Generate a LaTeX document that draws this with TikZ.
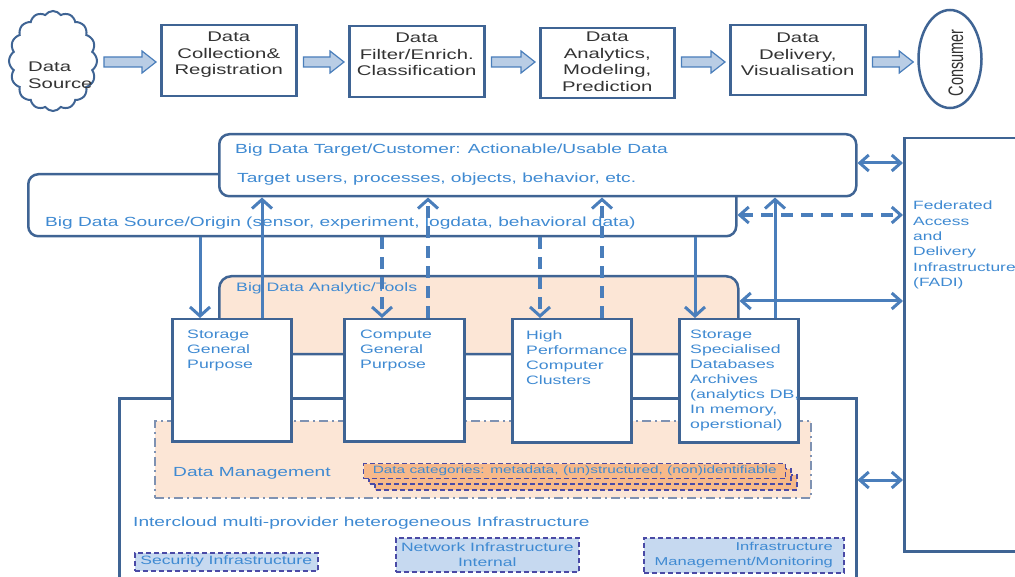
\documentclass[tikz,border=0pt]{standalone}
\usepackage{fontspec}
\setmainfont{Liberation Sans}[FakeStretch=1.45]
\newfontfamily\plainsans{Liberation Sans}
\usetikzlibrary{arrows.meta,shapes.symbols,shapes.geometric,calc}

\definecolor{frame}{HTML}{3F6494}
\definecolor{link}{HTML}{4A7EBB}
\definecolor{labelblue}{HTML}{3F8AD2}
\definecolor{peach}{HTML}{FCE6D6}
\definecolor{orangefill}{HTML}{F7B98A}
\definecolor{stackedge}{HTML}{4A4AA6}
\definecolor{paleblue}{HTML}{C6D9F0}
\definecolor{arrowfill}{HTML}{B9CDE5}
\definecolor{dmedge}{HTML}{7F92B2}
\definecolor{ink}{HTML}{333333}

\tikzset{
  stage/.style={draw=frame, line width=2.5pt, fill=white, inner sep=0pt, anchor=north west},
  stagetext/.style={text=ink, font=\fontsize{14}{16.5}\selectfont, align=center, inner sep=0pt, anchor=north},
  blk/.style={draw=link, line width=1.2pt, fill=arrowfill, line join=miter},
  panel/.style={draw=frame, line width=2.5pt, fill=white, inner sep=0pt, anchor=north west},
  lbl/.style={text=labelblue, inner sep=0pt, anchor=north west, align=left},
  boxlbl/.style={lbl, font=\fontsize{12.2}{15}\selectfont},
  headlbl/.style={lbl, font=\fontsize{13.2}{16}\selectfont},
  catbox/.style={draw=stackedge, fill=orangefill, line width=1.4pt, dash pattern=on 5pt off 3pt},
  infrabox/.style={draw=stackedge, fill=paleblue, line width=1.6pt, dash pattern=on 5pt off 3pt,
    inner sep=0pt, anchor=north west, text=labelblue},
  conn/.style={draw=link, line width=3pt},
  dashconn/.style={conn, line width=3.5pt, dash pattern=on 12pt off 8pt},
  tovert/.style={-{Straight Barb[length=9pt,width=20pt,line width=3pt]}},
  tohoriz/.style={{Straight Barb[length=9pt,width=16pt,line width=3pt]}-{Straight Barb[length=9pt,width=16pt,line width=3pt]}},
}

% block arrow between two nodes of the top row
\newcommand\blockarrow[2]{%
  \draw[blk] let \p1=(#1.east), \p2=(#2.west), \p3=(rowy) in
    (\x1+6pt,\y3+5pt) -- (\x2-18pt,\y3+5pt) -- (\x2-18pt,\y3+11pt) -- (\x2-4pt,\y3)
    -- (\x2-18pt,\y3-11pt) -- (\x2-18pt,\y3-5pt) -- (\x1+6pt,\y3-5pt) -- cycle;}

\begin{document}
\begin{tikzpicture}[x=1pt,y=-1pt]
\useasboundingbox (0,0) rectangle (1015,577);
\clip (0,0) rectangle (1015,577);

% ---------- top row: the data pipeline ----------
\coordinate (rowy) at (0,62);
\node[cloud, draw=frame, line width=2pt, fill=white, cloud puffs=16, cloud puff arc=110,
      cloud ignores aspect, minimum width=88pt, minimum height=100pt, inner sep=0pt] (dsrc) at (53,61) {};
\node[text=ink, font=\fontsize{14}{17}\selectfont, align=left, inner sep=0pt, anchor=north west]
  (dsrct) at (28,62) {Data\\Source};

\node[stage, minimum width=135pt, minimum height=71pt] (coll) at (160,24) {};
\node[stagetext] at ([yshift=-8pt]coll.north) {Data\\Collection\&\\Registration};

\node[stage, minimum width=135pt, minimum height=71pt] (filt) at (348,25) {};
\node[stagetext] at ([yshift=-8pt]filt.north) {Data\\Filter/Enrich.\\Classification};

\node[stage, minimum width=134pt, minimum height=70pt] (anal) at (539,27) {};
\node[stagetext] at ([yshift=-5pt]anal.north) {Data\\Analytics,\\Modeling,\\Prediction};

\node[stage, minimum width=135pt, minimum height=70pt] (deliv) at (729,24) {};
\node[stagetext] at ([yshift=-9pt]deliv.north) {Data\\Delivery,\\Visualisation};

\node[ellipse, draw=frame, line width=2.5pt, fill=white, minimum width=63pt, minimum height=98pt,
      inner sep=0pt] (cons) at (950,59) {};
\node[rotate=90, text=ink, inner sep=0pt] at (956,63)
  {\plainsans\fontsize{14.5}{16}\selectfont\scalebox{1}[1.45]{Consumer}};

\blockarrow{dsrc}{coll}
\blockarrow{coll}{filt}
\blockarrow{filt}{anal}
\blockarrow{anal}{deliv}
\blockarrow{deliv}{cons}

% ---------- infrastructure layer ----------
\node[panel, minimum width=737pt, minimum height=220pt] (infra) at (118,397) {};

\node[draw=dmedge, fill=peach, line width=2pt, dash pattern=on 9pt off 4pt on 2pt off 4pt,
      minimum width=656pt, minimum height=77pt, inner sep=0pt, anchor=north west] (dm) at (154,420) {};
\node[headlbl] at (173,467) {Data Management};

\foreach \d in {12,6}
  \draw[catbox] (363+\d,463+\d) rectangle (785+\d,478+\d);
\node[catbox, minimum width=422pt, minimum height=15pt, inner sep=0pt, anchor=north west,
      text=labelblue, font=\fontsize{10.6}{12}\selectfont] (cat) at (363,463)
  {Data categories: metadata, (un)structured, (non)identifiable};

\node[headlbl] at (133,517) {Intercloud multi-provider heterogeneous Infrastructure};

\node[infrabox, minimum width=183pt, minimum height=18pt, font=\fontsize{12.1}{14}\selectfont]
  (sec) at (134,552) {Security Infrastructure};
\node[infrabox, minimum width=183pt, minimum height=34pt, align=center, font=\fontsize{12.1}{15}\selectfont]
  (net) at (395,537) {Network Infrastructure\\Internal};
\node[infrabox, minimum width=200pt, minimum height=35pt, align=right, font=\fontsize{11.4}{15}\selectfont]
  (mgmt) at (643,537) {Infrastructure\\Management/Monitoring};

% ---------- source and target panels ----------
\node[panel, rounded corners=10pt, minimum width=708pt, minimum height=62pt] (origin) at (27,173) {};
\node[panel, rounded corners=10pt, minimum width=637pt, minimum height=62pt] (target) at (218,133) {};
\node[headlbl] at (235,144) {Big Data Target/Customer: Actionable/Usable Data};
\node[headlbl] at (237,173) {Target users, processes, objects, behavior, etc.};
\node[headlbl] at (45,217) {Big Data Source/Origin (sensor, experiment, logdata, behavioral data)};

% ---------- analytics tools ----------
\node[panel, fill=peach, rounded corners=12pt, minimum width=519pt, minimum height=78pt] (tools) at (218,275) {};
\node[boxlbl] at (236,282) {Big Data Analytic/Tools};

\node[panel, minimum width=119pt, minimum height=122pt] (sgp) at (171,318) {};
\node[boxlbl] at (187,330) {Storage\\General\\Purpose};
\node[panel, minimum width=120pt, minimum height=122pt] (cgp) at (343,318) {};
\node[boxlbl] at (360,330) {Compute\\General\\Purpose};
\node[panel, minimum width=119pt, minimum height=123pt] (hpc) at (511,318) {};
\node[boxlbl] at (526,330) {High\\Performance\\Computer\\Clusters};
\node[panel, minimum width=119pt, minimum height=123pt] (ssd) at (678,318) {};
\node[boxlbl] at (690,330) {Storage\\Specialised\\Databases\\Archives\\(analytics DB,\\In memory,\\operstional)};

% ---------- federated access ----------
\node[panel, minimum width=130pt, minimum height=413pt] (fadi) at (903,137) {};
\node[lbl, font=\fontsize{12}{15.3}\selectfont] at (913,201)
  {Federated\\Access\\and\\Delivery\\Infrastructure\\(FADI)};

% ---------- vertical data flows ----------
\coordinate (v1) at (200,0);
\coordinate (v2) at (262,0);
\coordinate (v3) at (382,0);
\coordinate (v4) at (428,0);
\coordinate (v5) at (540,0);
\coordinate (v6) at (602,0);
\coordinate (v7) at (695,0);
\coordinate (v8) at (775,0);

\draw[conn, tovert] (v1 |- origin.south) -- (v1 |- sgp.north);
\draw[conn, tovert] (v2 |- sgp.north) -- (v2 |- target.south);
\draw[dashconn, tovert] (v3 |- origin.south) -- (v3 |- cgp.north);
\draw[dashconn, tovert] (v4 |- cgp.north) -- (v4 |- target.south);
\draw[dashconn, tovert] (v5 |- origin.south) -- (v5 |- hpc.north);
\draw[dashconn, tovert] (v6 |- hpc.north) -- (v6 |- target.south);
\draw[conn, tovert] (v7 |- origin.south) -- (v7 |- ssd.north);
\draw[conn, tovert] (v8 |- ssd.north) -- (v8 |- target.south);

% ---------- links to the federated access layer ----------
\coordinate (h1) at (0,163);
\coordinate (h2) at (0,215);
\coordinate (h3) at (0,301);
\coordinate (h4) at (0,480);

\draw[conn, tohoriz] (target.east |- h1) -- (fadi.west |- h1);
\draw[dashconn, tohoriz] (origin.east |- h2) -- (fadi.west |- h2);
\draw[conn, tohoriz] (tools.east |- h3) -- (fadi.west |- h3);
\draw[conn, tohoriz] (infra.east |- h4) -- (fadi.west |- h4);
\end{tikzpicture}
\end{document}
